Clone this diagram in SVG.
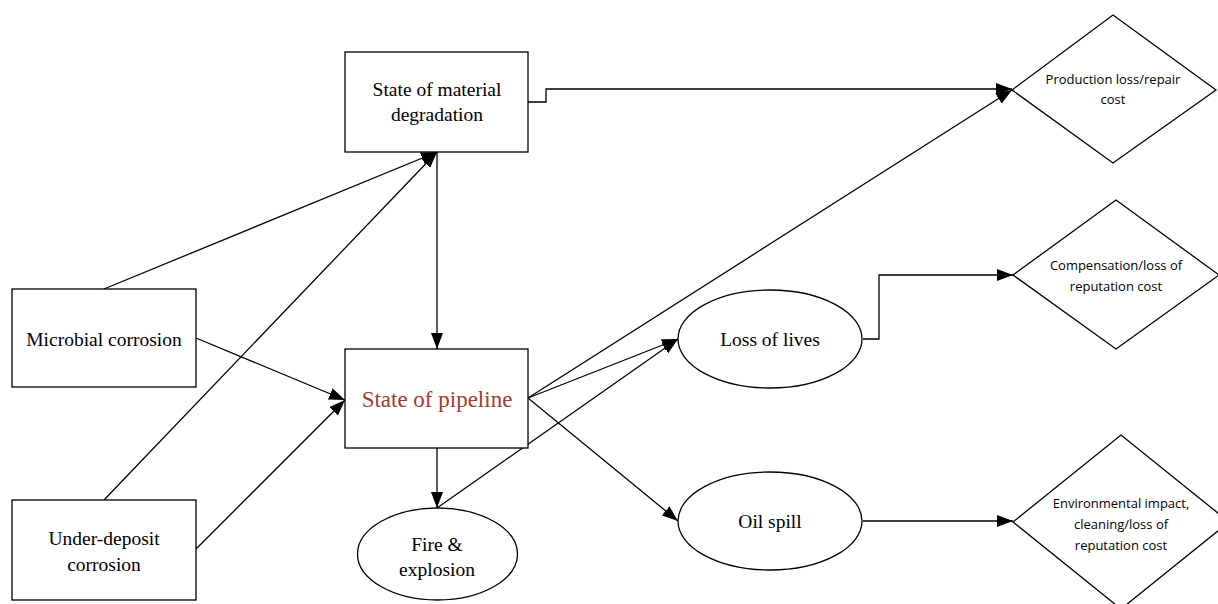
<svg xmlns="http://www.w3.org/2000/svg" width="1218" height="604" viewBox="0 0 1218 604">
<defs>
<marker id="arr" markerWidth="16" markerHeight="12" refX="16" refY="6" orient="auto" markerUnits="userSpaceOnUse">
<path d="M0,0 L16,6 L0,12 Z" fill="#000"/>
</marker>
<style>
.box{fill:#fff;stroke:#000;stroke-width:1.3}
.t{font-family:"Liberation Serif","Times New Roman",serif;font-size:19.5px;fill:#000;text-anchor:middle}
.s{font-family:"Open Sans","Liberation Sans",sans-serif;font-size:13px;fill:#000;text-anchor:middle}
.c{fill:none;stroke:#000;stroke-width:1.3;marker-end:url(#arr)}
</style>
</defs>
<rect width="1218" height="604" fill="#fff"/>
<g id="connectors">
<path class="c" d="M528,102 H546 V89 H1012"/>
<path class="c" d="M104,289 L437,152"/>
<path class="c" d="M104,500 L437,152"/>
<path class="c" d="M437,152 V349"/>
<path class="c" d="M196,338 L345,400"/>
<path class="c" d="M196,549 L345,400"/>
<path class="c" d="M437,448 V508"/>
<path class="c" d="M437,508 L678,339"/>
<path class="c" d="M528,398 L678,339"/>
<path class="c" d="M528,398 L1012,90"/>
<path class="c" d="M528,398 L678,521"/>
<path class="c" d="M863,339 H879 V275 H1013"/>
<path class="c" d="M863,521 H1013"/>
</g>
<g id="material">
<rect class="box" x="345" y="52" width="183" height="100"/>
<text class="t" x="437" y="96">State of material</text>
<text class="t" x="437" y="121">degradation</text>
</g>
<g id="microbial">
<rect class="box" x="12" y="289" width="184" height="98"/>
<text class="t" x="104" y="346">Microbial corrosion</text>
</g>
<g id="underdeposit">
<rect class="box" x="12" y="500" width="184" height="100"/>
<text class="t" x="104" y="545">Under-deposit</text>
<text class="t" x="104" y="571">corrosion</text>
</g>
<g id="pipeline">
<rect class="box" x="345" y="349" width="183" height="99"/>
<text class="t" x="437" y="407" style="font-size:23px;fill:#9E3B33">State of pipeline</text>
</g>
<g id="fire">
<ellipse class="box" cx="437.5" cy="554" rx="80" ry="46"/>
<text class="t" x="437" y="551">Fire &amp;</text>
<text class="t" x="437" y="576">explosion</text>
</g>
<g id="lives">
<ellipse class="box" cx="770" cy="339" rx="92" ry="49"/>
<text class="t" x="770" y="346">Loss of lives</text>
</g>
<g id="oil">
<ellipse class="box" cx="770" cy="521" rx="92" ry="49"/>
<text class="t" x="770" y="528">Oil spill</text>
</g>
<g id="production">
<polygon class="box" points="1012,90 1113,15 1216,90 1113,163"/>
<text class="s" x="1113" y="84">Production loss/repair</text>
<text class="s" x="1113" y="104">cost</text>
</g>
<g id="compensation">
<polygon class="box" points="1013,275 1116,200 1219,275 1116,349"/>
<text class="s" x="1116" y="270">Compensation/loss of</text>
<text class="s" x="1116" y="291">reputation cost</text>
</g>
<g id="environmental">
<polygon class="box" points="1013,522 1121,435 1229,522 1121,609"/>
<text class="s" x="1121" y="508">Environmental impact,</text>
<text class="s" x="1121" y="529">cleaning/loss of</text>
<text class="s" x="1121" y="550">reputation cost</text>
</g>
</svg>
